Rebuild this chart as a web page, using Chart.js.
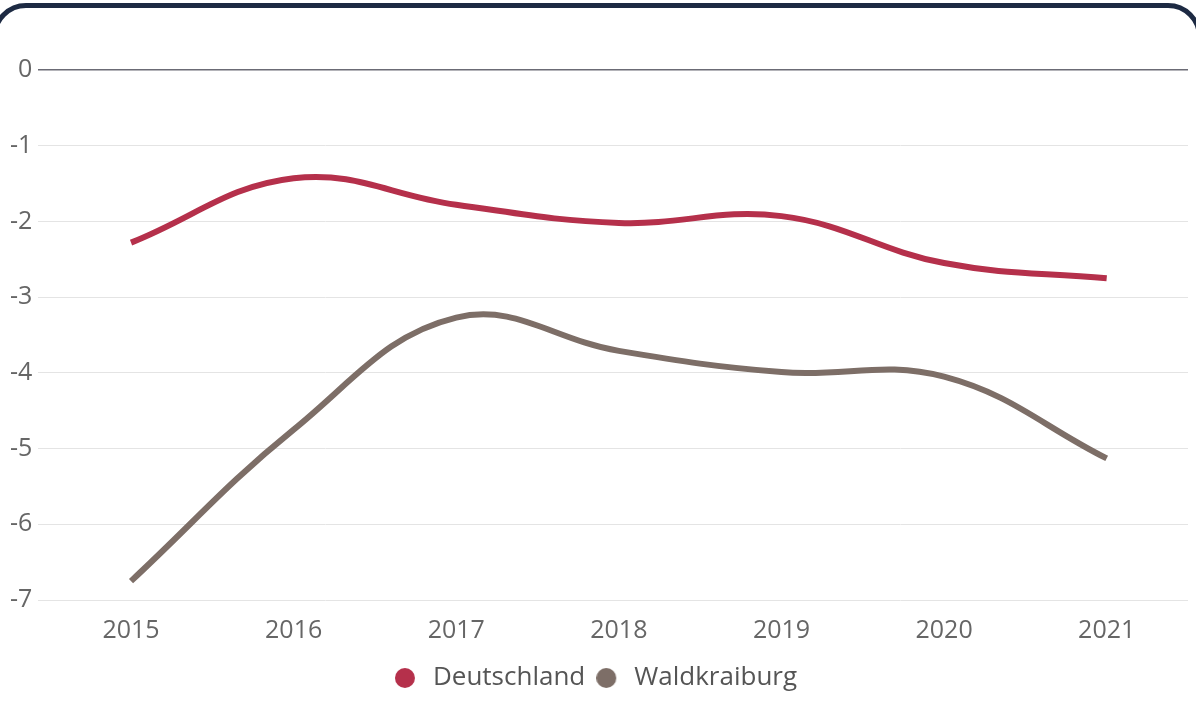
<html lang="de">
<head>
  <meta charset="UTF-8">
  <title>Deutschland / Waldkraiburg</title>
  <script src="https://cdn.jsdelivr.net/npm/chart.js"></script>
  <style>
    html, body {
      margin: 0;
      width: 1196px;
      height: 722px;
      overflow: hidden;
      background: #fff;
      font-family: "Open Sans", sans-serif;
    }
    .card {
      position: absolute;
      left: -8px;
      top: 3px;
      width: 1200px;
      height: 740px;
      border: 5px solid #1d2a43;
      border-radius: 34px;
      background: #fff;
    }
    .wrap {
      position: absolute;
      left: 0;
      top: 0;
      width: 1196px;
      height: 722px;
    }
  </style>
</head>
<body>
  <div class="card"></div>
  <div class="wrap"><canvas id="chart"></canvas></div>
  <script>
    // data
    const years = [2015, 2016, 2017, 2018, 2019, 2020, 2021];
    const deutschland = [-2.28, -1.43, -1.78, -2.02, -1.93, -2.55, -2.75];
    const waldkraiburg = [-6.75, -4.75, -3.27, -3.71, -3.99, -4.05, -5.13];
    const yTicks = [0, -1, -2, -3, -4, -5, -6, -7];
    const colors = ['#b5304b', '#7d6e67'];

    const pts = vals => vals.map((v, i) => ({ x: years[i], y: v }));

    // legend dot with some empty room on its right
    function dot(color) {
      const c = document.createElement('canvas');
      c.width = 25; c.height = 20;
      const g = c.getContext('2d');
      g.fillStyle = color;
      g.beginPath();
      g.arc(10, 10, 10, 0, Math.PI * 2);
      g.fill();
      return c;
    }
    const dots = colors.map(dot);

    new Chart(document.getElementById('chart'), {
      type: 'line',
      data: {
        datasets: [{
          label: 'Deutschland',
          data: pts(deutschland),
          borderColor: colors[0],
          backgroundColor: colors[0],
          borderWidth: 6,
          pointRadius: 0,
          tension: 0.4
        }, {
          label: 'Waldkraiburg',
          data: pts(waldkraiburg),
          borderColor: colors[1],
          backgroundColor: colors[1],
          borderWidth: 6,
          pointRadius: 0,
          tension: 0.4
        }]
      },
      options: {
        responsive: true,
        maintainAspectRatio: false,
        animation: false,
        layout: { padding: { top: 70, right: 8, left: 4, bottom: 21 } },
        scales: {
          x: {
            type: 'linear',
            min: 2014.43,
            max: 2021.5,
            afterBuildTicks: axis => { axis.ticks = years.map(v => ({ value: v })); },
            grid: { display: false },
            border: { display: false },
            ticks: {
              color: '#666',
              font: { family: 'Open Sans', size: 25 },
              padding: 8,
              callback: v => String(v)
            }
          },
          y: {
            min: -7,
            max: 0,
            afterBuildTicks: axis => { axis.ticks = yTicks.map(v => ({ value: v })); },
            border: { display: false },
            grid: {
              drawTicks: false,
              color: ctx => ctx.tick && ctx.tick.value === 0 ? '#6b6b75' : '#e4e4e4',
              lineWidth: ctx => ctx.tick && ctx.tick.value === 0 ? 1.5 : 1
            },
            ticks: {
              color: '#666',
              font: { family: 'Open Sans', size: 25 },
              padding: 6
            }
          }
        },
        plugins: {
          legend: {
            position: 'bottom',
            labels: {
              usePointStyle: true,
              boxHeight: 20,
              pointStyleWidth: 25,
              color: '#555',
              padding: 11,
              font: { family: 'Open Sans', size: 26 },
              generateLabels: chart => chart.data.datasets.map((ds, i) => ({
                text: ds.label,
                datasetIndex: i,
                pointStyle: dots[i],
                fillStyle: colors[i],
                strokeStyle: colors[i],
                lineWidth: 0,
                fontColor: '#555',
                hidden: false
              }))
            }
          },
          tooltip: { enabled: false }
        }
      }
    });
  </script>
</body>
</html>
